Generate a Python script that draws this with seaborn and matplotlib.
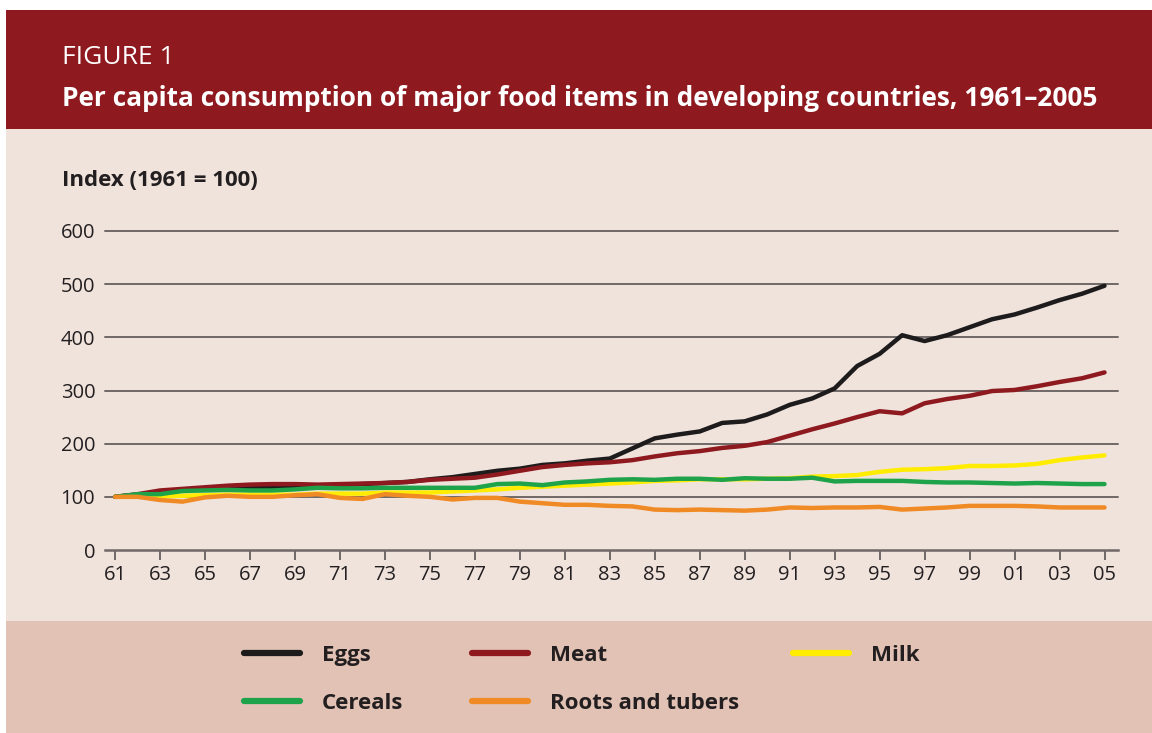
import pandas as pd
import matplotlib
matplotlib.use("Agg")
import matplotlib.pyplot as plt
from matplotlib.patches import Rectangle
from matplotlib.lines import Line2D
import seaborn as sns

# ==========================================================
# Data (index, 1961 = 100)
# ==========================================================

years = list(range(1961, 2006))

eggs = [100, 104, 108, 112, 115, 117, 118, 119, 120, 121,
        122, 124, 126, 128, 133, 137, 143, 149, 153, 160,
        163, 168, 172, 191, 210, 217, 223, 239, 242, 255,
        273, 285, 304, 346, 369, 404, 393, 404, 419, 434,
        443, 456, 470, 482, 497]

meat = [100, 105, 112, 115, 118, 121, 123, 124, 124, 123,
        124, 125, 126, 128, 132, 134, 136, 142, 149, 156,
        160, 163, 165, 169, 176, 182, 186, 192, 196, 203,
        215, 227, 238, 250, 261, 257, 276, 284, 290, 299,
        301, 308, 316, 323, 334]

milk = [100, 100, 101, 102, 103, 104, 104, 104, 104, 106,
        106, 106, 108, 108, 108, 110, 112, 114, 117, 119,
        121, 123, 125, 127, 130, 131, 133, 133, 133, 134,
        135, 138, 139, 141, 147, 151, 152, 154, 158, 158,
        159, 162, 169, 174, 178]

cereals = [100, 105, 105, 111, 112, 113, 112, 112, 114, 117,
           116, 116, 117, 117, 117, 117, 117, 124, 125, 122,
           127, 129, 132, 133, 132, 134, 134, 132, 135, 134,
           134, 136, 129, 130, 130, 130, 128, 127, 127, 126,
           125, 126, 125, 124, 124]

roots = [100, 100, 94, 91, 99, 102, 100, 100, 103, 105,
         98, 96, 105, 102, 100, 95, 98, 98, 91, 88,
         85, 85, 83, 82, 76, 75, 76, 75, 74, 76,
         80, 79, 80, 80, 81, 76, 78, 80, 83, 83,
         83, 82, 80, 80, 80]

items = ["Eggs", "Meat", "Milk", "Cereals", "Roots and tubers"]
colors = {"Eggs": "#1d1b1c", "Meat": "#8e1a1f", "Milk": "#ffec00",
          "Cereals": "#1fa34a", "Roots and tubers": "#f08a24"}
draw_order = ["Milk", "Eggs", "Meat", "Cereals", "Roots and tubers"]

y_ticks = [0, 100, 200, 300, 400, 500, 600]
x_ticks = list(range(1961, 2006, 2))
x_labels = [str(y)[-2:] for y in x_ticks]

df = pd.DataFrame({"year": years * 5,
                   "index": eggs + meat + milk + cereals + roots,
                   "item": sum([[n] * len(years) for n in items], [])})

# ==========================================================
# Figure
# ==========================================================

sns.set_theme(style="white")
plt.rcParams["font.family"] = ["Open Sans", "DejaVu Sans"]

text_col = "#231f20"
grid_col = "#6f6866"

fig = plt.figure(figsize=(11.52, 7.33), dpi=100)
fig.patch.set_facecolor("white")

W, H = 1152, 733
def band(top, bottom, color):
    fig.add_artist(Rectangle((6 / W, 1 - bottom / H), 1 - 6 / W, (bottom - top) / H,
                             transform=fig.transFigure, facecolor=color,
                             edgecolor="none", zorder=0))

band(10, 129, "#8e1a1f")
band(129, 621, "#f0e3dc")
band(621, 733, "#e1c2b5")

fig.text(62 / W, 1 - 57 / H, "FIGURE 1", color="white", fontsize=19,
         va="center", ha="left")
fig.text(62 / W, 1 - 98 / H,
         "Per capita consumption of major food items in developing countries, 1961\u20132005",
         color="white", fontsize=18.9, fontweight="bold", va="center", ha="left")
fig.text(62 / W, 1 - 181 / H, "Index (1961 = 100)", color=text_col, fontsize=16,
         fontweight="bold", va="center", ha="left")

ax = fig.add_axes([105 / W, 1 - 550 / H, (1118 - 105) / W, (550 - 231) / H])
ax.set_facecolor("none")

sns.lineplot(data=df, x="year", y="index", hue="item", hue_order=draw_order,
             palette=colors, linewidth=3.2, legend=False, ax=ax)
for ln in ax.lines:
    ln.set_solid_capstyle("round")
    ln.set_solid_joinstyle("round")

ax.set_xlim(1960.55, 2005.6)
ax.set_ylim(0, 600)
ax.set_xlabel("")
ax.set_ylabel("")

ax.set_yticks(y_ticks)
ax.set_yticklabels([str(v) for v in y_ticks])
ax.set_xticks(x_ticks)
ax.set_xticklabels(x_labels)

for v in y_ticks[1:]:
    ax.axhline(v, color=grid_col, linewidth=1.4, zorder=0.5, clip_on=False)

for s in ["top", "right", "left"]:
    ax.spines[s].set_visible(False)
ax.spines["bottom"].set_color(grid_col)
ax.spines["bottom"].set_linewidth(1.8)

ax.tick_params(axis="y", length=0, pad=7, labelsize=14.5, labelcolor=text_col)
ax.tick_params(axis="x", direction="out", length=7, width=1.4, color=grid_col,
               pad=4, labelsize=14.5, labelcolor=text_col, bottom=True)

# ==========================================================
# Legend (three columns)
# ==========================================================

def handle(name):
    return Line2D([], [], color=colors[name], linewidth=4.5, solid_capstyle="round")

columns = [(["Eggs", "Cereals"], 244), (["Meat", "Roots and tubers"], 472), (["Milk"], 793)]
for names, xpx in columns:
    leg = fig.legend([handle(n) for n in names], names, loc="upper left",
                     bbox_to_anchor=(xpx / W, 1 - 645 / H), frameon=False,
                     handlelength=2.5, handletextpad=1.0, labelspacing=1.2,
                     borderaxespad=0, borderpad=0, fontsize=16)
    for t in leg.get_texts():
        t.set_color(text_col)
        t.set_fontweight("bold")

fig.savefig("out.png", dpi=100)
